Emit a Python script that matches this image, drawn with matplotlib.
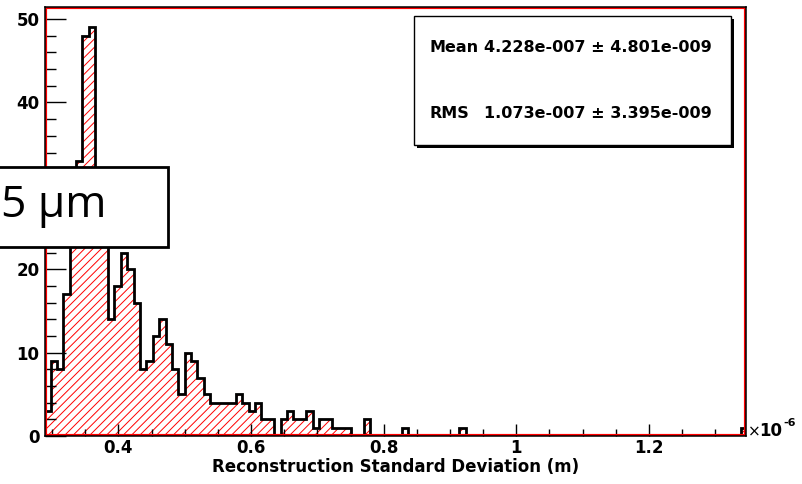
import numpy as np
import matplotlib.pyplot as plt
from matplotlib.patches import Rectangle
from matplotlib.ticker import MultipleLocator

# reconstruction sigma histogram, x in units of 1e-6 m
bin_start = 0.28807
bin_width = 0.009634
counts = [3, 9, 8, 17, 26, 33, 48, 49, 29, 24,
          14, 18, 22, 20, 16, 8, 9, 12, 14, 11,
          8, 5, 10, 9, 7, 5, 4, 4, 4, 4,
          5, 4, 3, 4, 2, 2, 0, 2, 3, 2,
          2, 3, 1, 2, 2, 1, 1, 1, 0, 0,
          2, 0, 0, 0, 0, 0, 1, 0, 0, 0,
          0, 0, 0, 0, 0, 1, 0, 0, 0, 0,
          0, 0, 0, 0, 0, 0, 0, 0, 0, 0,
          0, 0, 0, 0, 0, 0, 0, 0, 0, 0,
          0, 0, 0, 0, 0, 0, 0, 0, 0, 0,
          0, 0, 0, 0, 0, 0, 0, 0, 0, 1]
x_range = (0.2894, 1.3458)
x_ticks = [0.4, 0.6, 0.8, 1.0, 1.2]
x_ticklabels = ["0.4", "0.6", "0.8", "1", "1.2"]
y_ticks = [0, 10, 20, 30, 40, 50]
stat_names = ["Mean", "RMS"]
stat_values = ["4.228e-007 \u00b1 4.801e-009", "1.073e-007 \u00b1 3.395e-009"]

plt.rcParams['font.family'] = 'DejaVu Sans'
plt.rcParams['hatch.linewidth'] = 0.7
plt.rcParams['hatch.color'] = 'red'

counts = np.array(counts)
edges = bin_start + bin_width * np.arange(len(counts) + 1)

W, H = 803, 484
fig = plt.figure(figsize=(W / 100, H / 100), dpi=100)
ax = fig.add_axes([45 / W, 1 - 436 / H, 700.7 / W, 429 / H])

ax.stairs(counts, edges, baseline=0, fill=True, facecolor='none',
          edgecolor='red', hatch='////', lw=0)
ax.stairs(counts, edges, baseline=0, color='black', lw=2.0)

ax.set_xlim(*x_range)
ax.set_ylim(0, 1.05 * counts.max())

# ROOT-like frame: black outside, red inside
ax.add_patch(Rectangle((0, 0), 1, 1, transform=ax.transAxes, fill=False,
                       ec='red', lw=3, zorder=5))
for s in ax.spines.values():
    s.set_linewidth(1.1)
    s.set_color('black')
    s.set_zorder(6)

ax.set_xticks(x_ticks)
ax.set_xticklabels(x_ticklabels)
ax.xaxis.set_minor_locator(MultipleLocator(0.05))
ax.set_yticks(y_ticks)
ax.yaxis.set_minor_locator(MultipleLocator(2))
ax.tick_params(axis='x', which='major', direction='in', length=8.5, width=1, pad=2)
ax.tick_params(axis='x', which='minor', direction='in', length=5, width=1)
ax.tick_params(axis='y', which='major', direction='in', length=15, width=1, pad=4)
ax.tick_params(axis='y', which='minor', direction='in', length=8, width=1)
for lab in ax.get_xticklabels() + ax.get_yticklabels():
    lab.set_fontweight('bold')
    lab.set_fontsize(12)

ax.set_xlabel("Reconstruction Standard Deviation (m)", fontsize=12,
              fontweight='bold', labelpad=1)

# exponent at the end of the x axis
fig.text(748 / W, 1 - 436 / H, "\u00d7", fontsize=11, va='baseline', ha='left')
fig.text(759.5 / W, 1 - 436 / H, "10", fontsize=12, fontweight='bold',
         va='baseline', ha='left')
fig.text(783 / W, 1 - 426 / H, "-6", fontsize=8, fontweight='bold',
         va='baseline', ha='left')

# statistics box with shadow
bx0, by0, bx1, by1 = 414, 16, 731, 145
fig.add_artist(Rectangle(((bx0 + 3) / W, 1 - (by1 + 3) / H), (bx1 - bx0) / W,
                         (by1 - by0) / H, transform=fig.transFigure,
                         fc='black', ec='black', lw=0, zorder=7))
fig.add_artist(Rectangle((bx0 / W, 1 - by1 / H), (bx1 - bx0) / W,
                         (by1 - by0) / H, transform=fig.transFigure,
                         fc='white', ec='black', lw=1, zorder=8))
for i, (name, val) in enumerate(zip(stat_names, stat_values)):
    yy = 1 - (47 + 66 * i) / H
    fig.text(430 / W, yy, name, fontsize=11.5, fontweight='bold',
             va='center', ha='left', zorder=9)
    fig.text(712 / W, yy, val, fontsize=11.5, fontweight='bold',
             va='center', ha='right', zorder=9)

# scale label box over the left side
fig.add_artist(Rectangle((-5 / W, 1 - 247 / H), 173 / W, 80 / H,
                         transform=fig.transFigure, fc='white', ec='black',
                         lw=2, zorder=10))
fig.text(1 / W, 1 - 206 / H, "5 \u00b5m", fontsize=32, family='Open Sans',
         va='center', ha='left', zorder=11)

fig.savefig("out.png", dpi=100)
